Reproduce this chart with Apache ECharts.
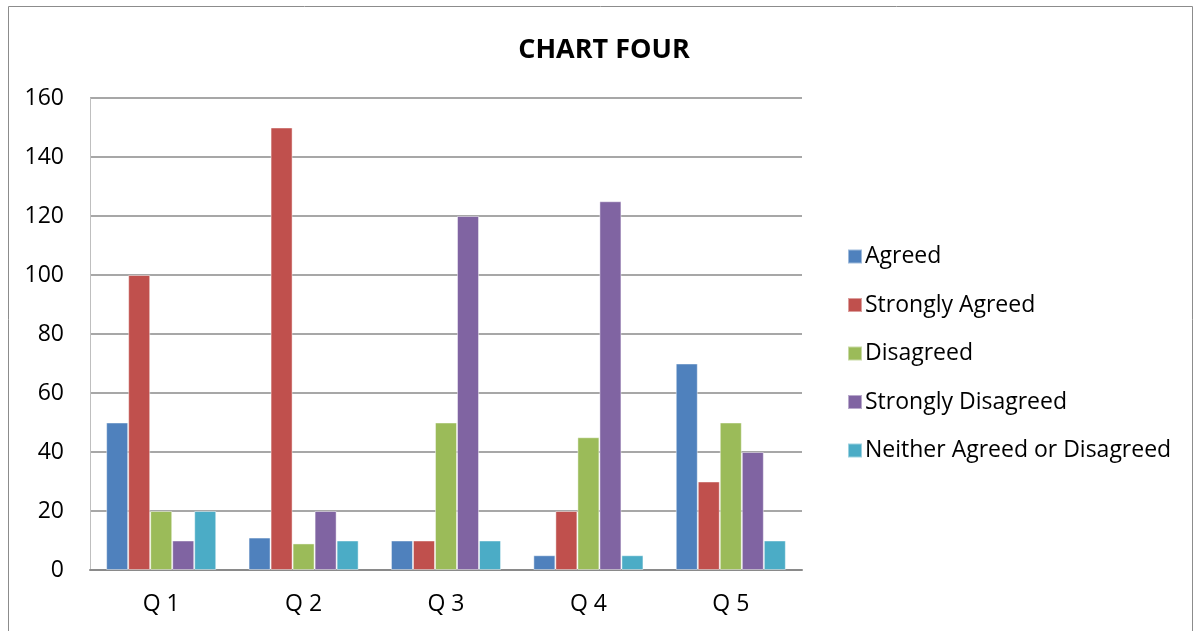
<!DOCTYPE html>
<html>
<head>
<meta charset="utf-8">
<script src="https://cdn.jsdelivr.net/npm/echarts@6/dist/echarts.min.js"></script>
<style>
  html, body { margin: 0; padding: 0; background: #fff; }
  #chart { width: 1197px; height: 631px; }
</style>
</head>
<body>
<div id="chart"></div>
<script>
// Survey answers per question
const categories = ['Q 1', 'Q 2', 'Q 3', 'Q 4', 'Q 5'];
const agreed = [50, 11, 10, 5, 70];
const stronglyAgreed = [100, 150, 10, 20, 30];
const disagreed = [20, 9, 50, 45, 50];
const stronglyDisagreed = [10, 20, 120, 125, 40];
const neither = [20, 10, 10, 5, 10];
const seriesNames = ['Agreed', 'Strongly Agreed', 'Disagreed', 'Strongly Disagreed', 'Neither Agreed or Disagreed'];
const seriesValues = [agreed, stronglyAgreed, disagreed, stronglyDisagreed, neither];
const colors = ['#4F81BD', '#C0504D', '#9BBB59', '#8064A2', '#4BACC6'];

const font = '"Open Sans", "Noto Sans", sans-serif';
const chart = echarts.init(document.getElementById('chart'));

chart.setOption({
  animation: false,
  color: colors,
  title: {
    text: 'CHART FOUR',
    left: 599,
    textAlign: 'center',
    top: 32,
    textStyle: { fontFamily: font, fontWeight: 'bold', fontSize: 27, color: '#000' }
  },
  legend: {
    orient: 'vertical',
    left: 842,
    top: 240,
    itemWidth: 14,
    itemHeight: 14,
    itemGap: 25.5,
    icon: 'rect',
    textStyle: { fontFamily: font, fontSize: 23, color: '#000', padding: [0, 0, 0, -2] },
    data: seriesNames
  },
  grid: { left: 90, right: 395, top: 98, bottom: 61, containLabel: false },
  xAxis: {
    type: 'category',
    data: categories,
    axisLine: { lineStyle: { color: '#8A8A8A', width: 2 } },
    axisTick: { show: false },
    axisLabel: { fontFamily: font, fontSize: 23, color: '#000', margin: 23 }
  },
  yAxis: {
    type: 'value',
    min: 0,
    max: 160,
    interval: 20,
    axisLine: { show: true, lineStyle: { color: '#BFBFBF', width: 1 } },
    axisTick: { show: false },
    axisLabel: { fontFamily: font, fontSize: 23, color: '#000', margin: 26 },
    splitLine: { lineStyle: { color: '#8A8A8A', width: 1.5 } }
  },
  graphic: [{
    type: 'rect',
    shape: { x: 8.5, y: 6.5, width: 1184, height: 640 },
    style: { fill: 'none', stroke: '#8C8C8C', lineWidth: 1 },
    silent: true
  }],
  series: seriesNames.map((name, i) => ({
    name: name,
    type: 'bar',
    data: seriesValues[i],
    barGap: '0%',
    barCategoryGap: '22.7%',
    itemStyle: { borderColor: 'rgba(255,255,255,0.45)', borderWidth: 1 }
  }))
});
</script>
</body>
</html>
